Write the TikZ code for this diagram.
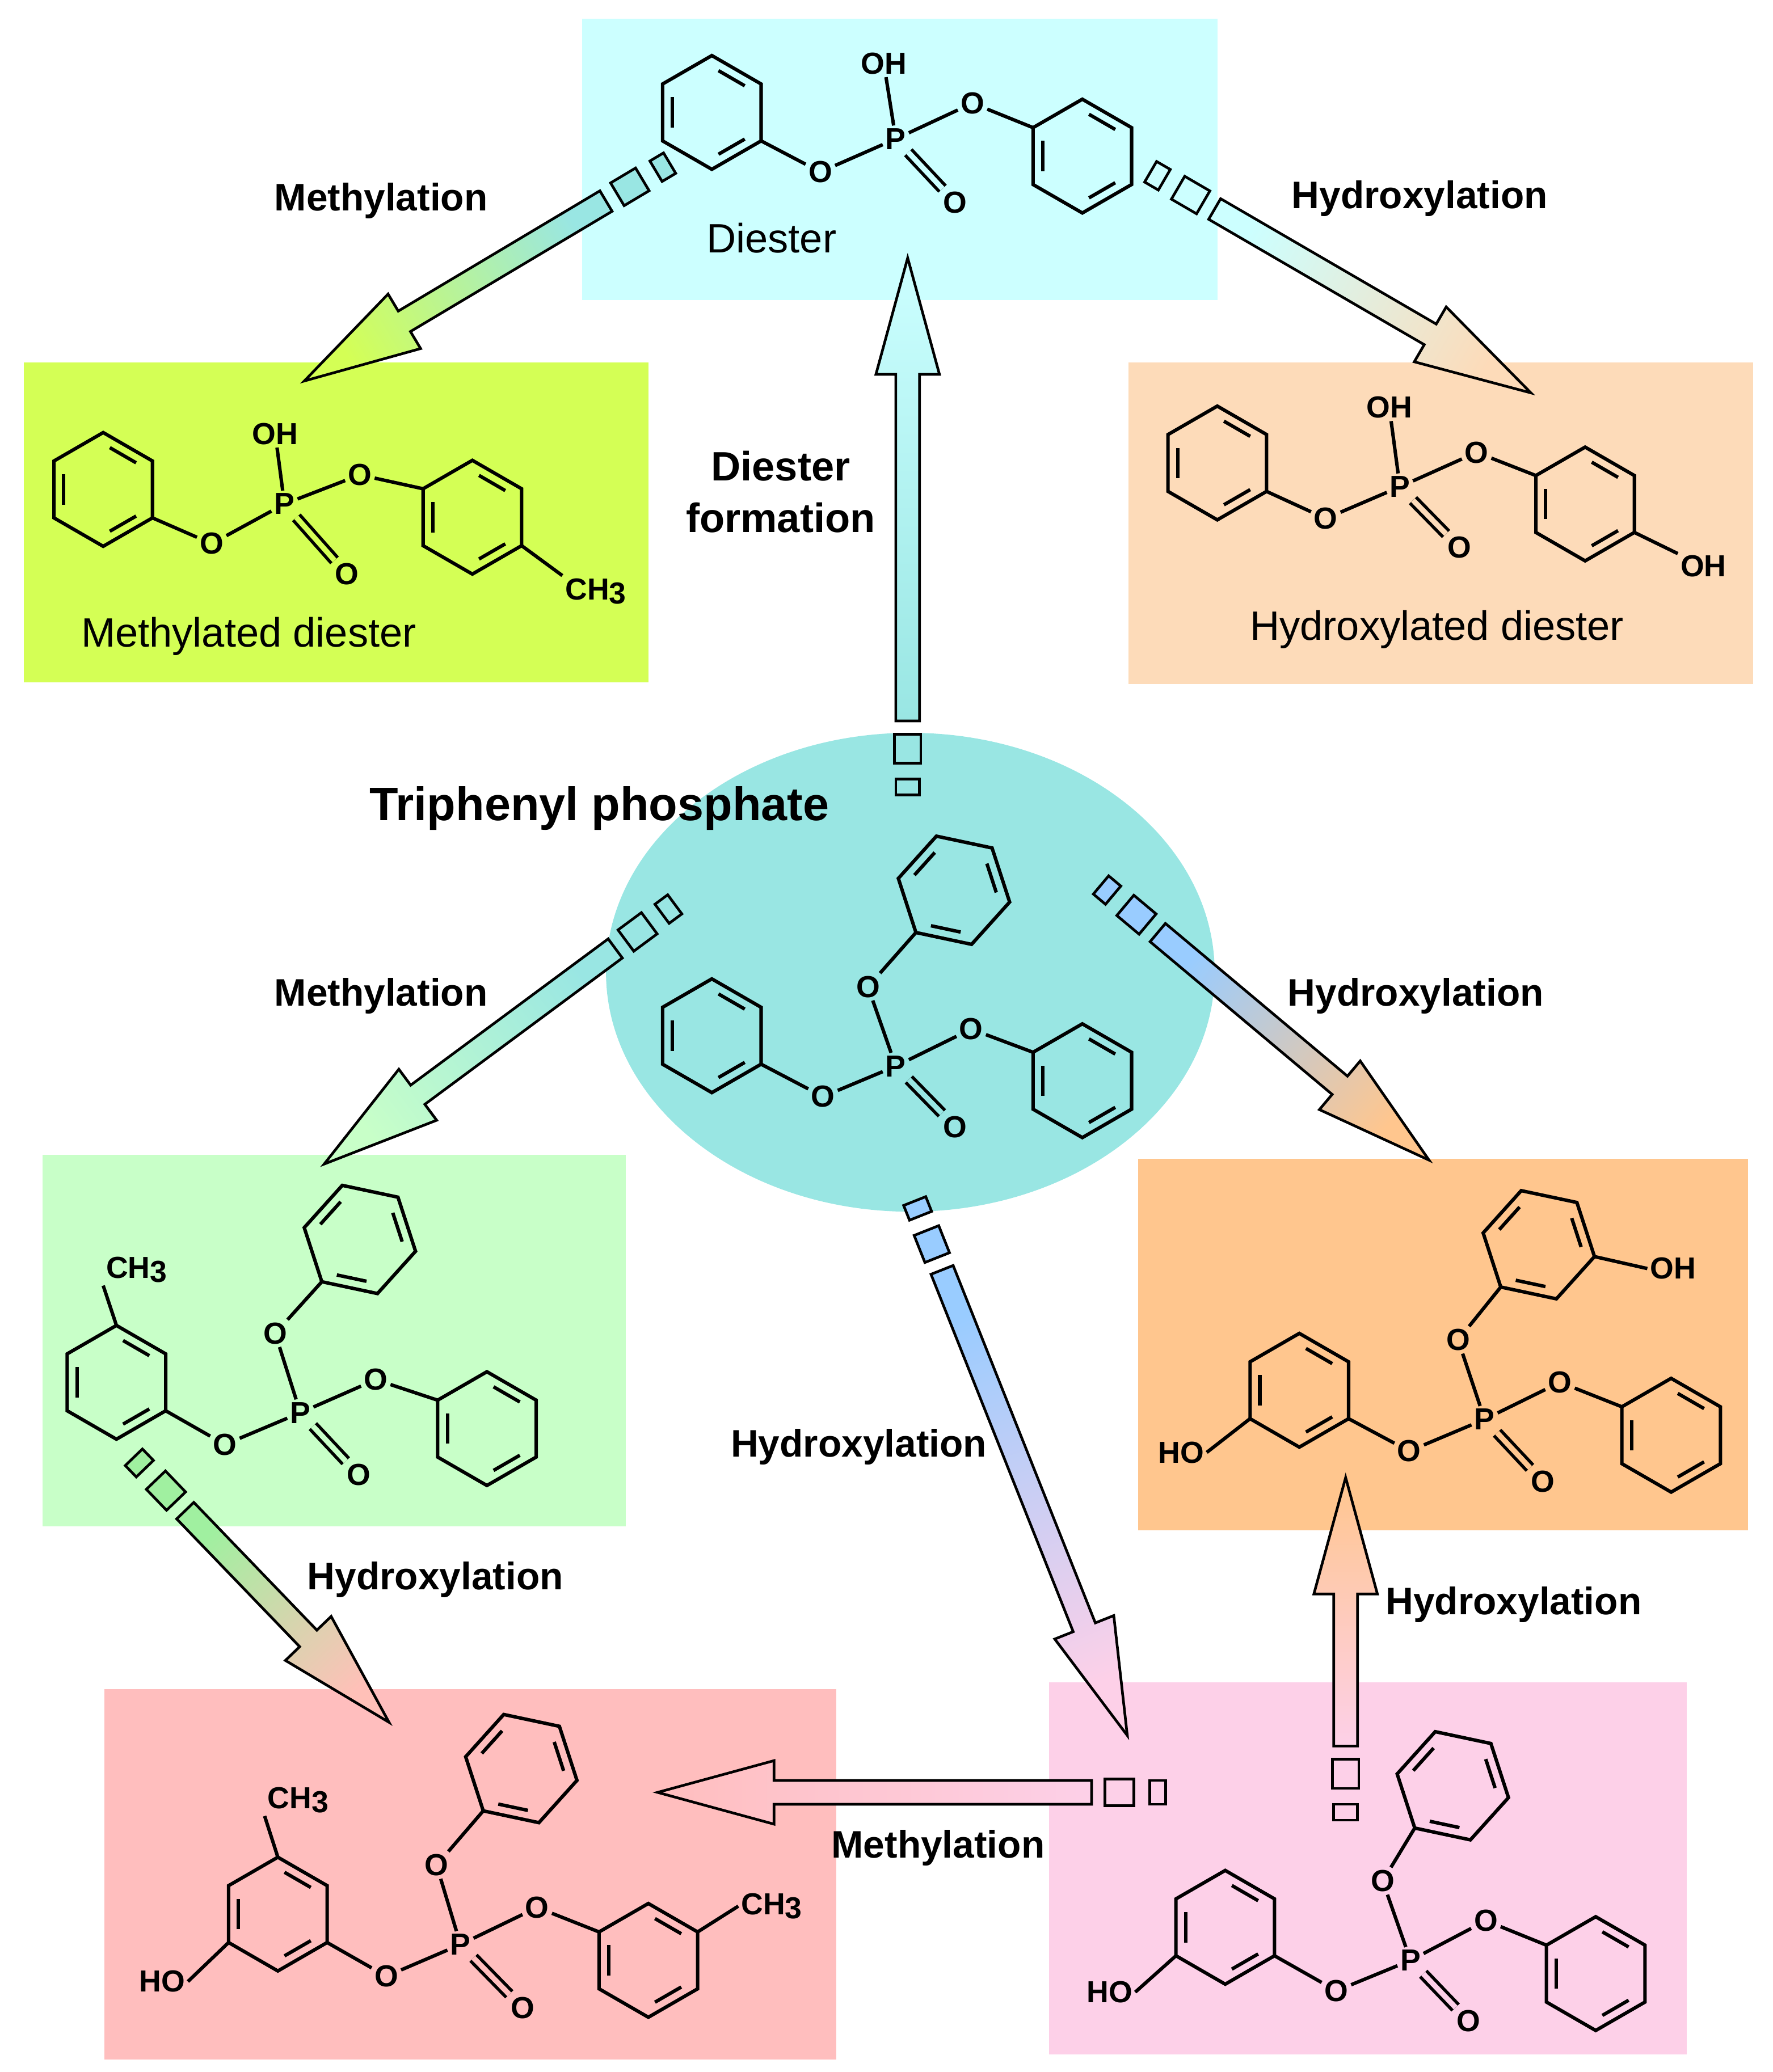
\documentclass[tikz,border=0pt]{standalone}
\usepackage{fontspec}
\setmainfont{Liberation Sans}
\usetikzlibrary{calc}
\definecolor{cbox}{HTML}{CCFFFF}
\definecolor{cell}{HTML}{99E6E3}
\definecolor{cyg}{HTML}{D4FF55}
\definecolor{cpeach}{HTML}{FDDBB9}
\definecolor{clg}{HTML}{C8FFC8}
\definecolor{corange}{HTML}{FFC68E}
\definecolor{cred}{HTML}{FFBEBE}
\definecolor{cpink}{HTML}{FDD0E8}
\definecolor{cblue}{HTML}{99CCFF}
\definecolor{cgreenA}{HTML}{A0F0A0}
\definecolor{cpeachB}{HTML}{FFC0B8}
\newcommand\atomfont{\fontsize{23}{26}\selectfont\bfseries}
\newcommand\labfont{\fontsize{29}{33}\selectfont\bfseries}
\newcommand\nmfont{\fontsize{31}{35}\selectfont}
\newcommand\myarrow[6]{%
  \pgfmathsetmacro\adx{#3-#1}\pgfmathsetmacro\ady{#4-#2}%
  \pgfmathsetmacro\aL{veclen(\adx,\ady)}%
  \pgfmathsetmacro\aA{atan2(-\ady,\adx)}%
  \pgfmathsetmacro\aS{\aA+90}%
  \begin{scope}[shift={(#1,#2)},rotate=\aA,line width=2pt]
    \shade[left color=#5,right color=#6,shading angle=\aS,draw=black]
      (0,-9)--(\aL-88,-9)--(\aL-88,-24)--(\aL,0)--(\aL-88,24)--(\aL-88,9)--(0,9)--cycle;
    \draw[fill=#5] (-10,-10) rectangle (-32,10);
    \draw[fill=#5] (-44,-9) rectangle (-56,9);
  \end{scope}}
\tikzset{
  x=1pt,y=-1pt,
  bond/.style={line width=2.6pt},
  atom/.style={font=\atomfont,inner sep=2pt},
  lab/.style={font=\labfont,align=center},
  nm/.style={font=\nmfont},
  dbl/.style={line width=2.4pt,double=#1,double distance=4pt},
  pics/ring/.style={code={
    \foreach \k in {0,...,5}{\coordinate (-\k) at (#1+60*\k:43);}
    \draw[bond,line join=miter] (-0)--(-1)--(-2)--(-3)--(-4)--(-5)--cycle;
    \foreach \k in {0,2,4}{\draw[bond] (#1+60*\k+9:32) -- (#1+60*\k+51:32);}
  }}
}
\begin{document}
\begin{tikzpicture}
\useasboundingbox (0,0) rectangle (1340,1566.4);
% boxes
\fill[cbox] (440,14) rectangle (920,227);
\fill[cyg] (18,274) rectangle (490,516);
\fill[cpeach] (853,274) rectangle (1325,517);
\fill[cell] (688,735) ellipse [x radius=230,y radius=181];
\fill[clg] (32,873) rectangle (473,1154);
\fill[corange] (860,876) rectangle (1321,1157);
\fill[cred] (79,1277) rectangle (632,1557);
\fill[cpink] (793,1272) rectangle (1275,1553);

% arrows
\myarrow{458}{152}{230}{288}{cell}{cyg}
\myarrow{918}{158}{1157}{297}{cbox}{cpeach}
\myarrow{686}{545}{686}{195}{cell}{cbox}
\myarrow{465}{717}{245}{880}{cell}{clg}
\myarrow{875}{705}{1080}{877}{cblue}{corange}
\myarrow{712}{960}{852}{1312}{cblue}{cpink}
\myarrow{140}{1142}{294}{1302}{cgreenA}{cpeachB}
\myarrow{825}{1355}{497}{1355}{cpink}{cred}
\myarrow{1017}{1320}{1017}{1117}{cpink}{corange}

% labels
\node[lab] (l1) at (288,152) {Methylation};
\node[lab] (l2) at (1073,150) {Hydroxylation};
\node[lab,font=\fontsize{31}{39}\selectfont\bfseries] (l3) at (590,372) {Diester\\formation};
\node[lab] (l4) at (288,753) {Methylation};
\node[lab] (l5) at (1070,753) {Hydroxylation};
\node[lab] (l6) at (649,1094) {Hydroxylation};
\node[lab] (l7) at (329,1194) {Hydroxylation};
\node[lab] (l8) at (709,1397) {Methylation};
\node[lab] (l9) at (1144,1213) {Hydroxylation};
\node[lab,font=\fontsize{35.5}{40}\selectfont\bfseries] (l10) at (453,611) {Triphenyl phosphate};
\node[nm] (n1) at (583,180) {Diester};
\node[nm] (n2) at (188,481) {Methylated diester};
\node[nm] (n3) at (1086,476) {Hydroxylated diester};

% ---- Diester
\pic (da) at (538,85) {ring=-90};
\pic (db) at (818,118) {ring=-90};
\node[atom] (dO1) at (620,130) {O};
\node[atom] (dP) at (677,105) {P};
\node[atom] (dOH) at (668,48) {OH};
\node[atom] (dO2) at (722,153) {O};
\node[atom] (dO3) at (735,78) {O};
\draw[bond] (da-2)--(dO1) (dO1)--(dP) (dP)--(dOH) (dP)--(dO3) (dO3)--(db-5);
\draw[dbl=cbox] (dP)--(dO2);

% ---- Methylated diester
\pic (ma) at (78,370) {ring=-90};
\pic (mb) at (357,391) {ring=-90};
\node[atom] (mO1) at (160,411) {O};
\node[atom] (mP) at (215,381) {P};
\node[atom] (mOH) at (208,328) {OH};
\node[atom] (mO2) at (262,434) {O};
\node[atom] (mO3) at (272,359) {O};
\node[atom,anchor=west] (mC) at (425,447) {CH\raisebox{-0.25ex}{3}};
\draw[bond] (ma-2)--(mO1) (mO1)--(mP) (mP)--(mOH) (mP)--(mO3) (mO3)--(mb-5) (mb-2)--(mC.north west);
\draw[dbl=cyg] (mP)--(mO2);

% ---- Hydroxylated diester
\pic (ha) at (920,350) {ring=-90};
\pic (hb) at (1198,381) {ring=-90};
\node[atom] (hO1) at (1002,392) {O};
\node[atom] (hP) at (1058,368) {P};
\node[atom] (hOH) at (1050,308) {OH};
\node[atom] (hO2) at (1103,414) {O};
\node[atom] (hO3) at (1116,342) {O};
\node[atom,anchor=west] (hOH2) at (1268,428) {OH};
\draw[bond] (ha-2)--(hO1) (hO1)--(hP) (hP)--(hOH) (hP)--(hO3) (hO3)--(hb-5) (hb-2)--(hOH2);
\draw[dbl=cpeach] (hP)--(hO2);

% ---- TPP
\pic (ta) at (721,673) {ring=192};
\pic (tb) at (538,783) {ring=-90};
\pic (tc) at (818,817) {ring=-90};
\node[atom] (tO1) at (656,746) {O};
\node[atom] (tP) at (677,806) {P};
\node[atom] (tO2) at (622,829) {O};
\node[atom] (tO3) at (734,778) {O};
\node[atom] (tO4) at (722,852) {O};
\draw[bond] (ta-5)--(tO1) (tO1)--(tP) (tb-2)--(tO2) (tO2)--(tP) (tP)--(tO3) (tO3)--(tc-5);
\draw[dbl=cell] (tP)--(tO4);

% ---- green (methyl TPP)
\pic (ga) at (272,937) {ring=192};
\pic (gb) at (88,1045) {ring=-90};
\pic (gc) at (368,1080) {ring=-90};
\node[atom] (gO1) at (208,1008) {O};
\node[atom] (gP) at (227,1068) {P};
\node[atom] (gO2) at (170,1092) {O};
\node[atom] (gO3) at (284,1043) {O};
\node[atom] (gO4) at (271,1115) {O};
\node[atom,anchor=west] (gC) at (78,960) {CH\raisebox{-0.25ex}{3}};
\draw[bond] (ga-5)--(gO1) (gO1)--(gP) (gb-2)--(gO2) (gO2)--(gP) (gP)--(gO3) (gO3)--(gc-5) (gb-0)--(gC.south west);
\draw[dbl=clg] (gP)--(gO4);

% ---- red
\pic (ra) at (394,1337) {ring=192};
\pic (rb) at (210,1447) {ring=-90};
\pic (rc) at (490,1482) {ring=-90};
\node[atom] (rO1) at (330,1410) {O};
\node[atom] (rP) at (348,1470) {P};
\node[atom] (rO2) at (292,1494) {O};
\node[atom] (rO3) at (406,1442) {O};
\node[atom] (rO4) at (395,1518) {O};
\node[atom,anchor=west] (rC1) at (200,1361) {CH\raisebox{-0.25ex}{3}};
\node[atom,anchor=east] (rHO) at (142,1498) {HO};
\node[atom,anchor=west] (rC2) at (558,1441) {CH\raisebox{-0.25ex}{3}};
\draw[bond] (ra-5)--(rO1) (rO1)--(rP) (rb-2)--(rO2) (rO2)--(rP) (rP)--(rO3) (rO3)--(rc-5)
  (rb-0)--(rC1.south west) (rb-4)--(rHO.east) (rc-1)--(rC2.west);
\draw[dbl=cred] (rP)--(rO4);

% ---- pink
\pic (pa) at (1098,1350) {ring=192};
\pic (pb) at (926,1457) {ring=-90};
\pic (pc) at (1206,1492) {ring=-90};
\node[atom] (pO1) at (1045,1422) {O};
\node[atom] (pP) at (1066,1482) {P};
\node[atom] (pO2) at (1010,1505) {O};
\node[atom] (pO3) at (1123,1452) {O};
\node[atom] (pO4) at (1110,1528) {O};
\node[atom,anchor=east] (pHO) at (858,1506) {HO};
\draw[bond] (pa-5)--(pO1) (pO1)--(pP) (pb-2)--(pO2) (pO2)--(pP) (pP)--(pO3) (pO3)--(pc-5) (pb-4)--(pHO.east);
\draw[dbl=cpink] (pP)--(pO4);

% ---- orange
\pic (oa) at (1163,941) {ring=192};
\pic (ob) at (982,1051) {ring=-90};
\pic (oc) at (1263,1085) {ring=-90};
\node[atom] (oO1) at (1102,1013) {O};
\node[atom] (oP) at (1122,1073) {P};
\node[atom] (oO2) at (1065,1097) {O};
\node[atom] (oO3) at (1179,1045) {O};
\node[atom] (oO4) at (1166,1120) {O};
\node[atom,anchor=west] (oOH) at (1245,959) {OH};
\node[atom,anchor=east] (oHO) at (912,1098) {HO};
\draw[bond] (oa-5)--(oO1) (oO1)--(oP) (ob-2)--(oO2) (oO2)--(oP) (oP)--(oO3) (oO3)--(oc-5) (oa-3)--(oOH.west) (ob-4)--(oHO.east);
\draw[dbl=corange] (oP)--(oO4);
\end{tikzpicture}
\end{document}
